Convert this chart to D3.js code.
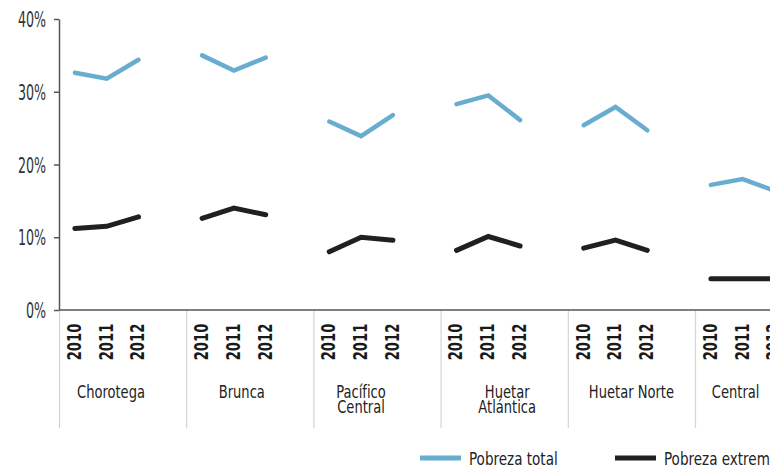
<!DOCTYPE html>
<html lang="es">
<head>
<meta charset="utf-8">
<script src="https://cdn.jsdelivr.net/npm/d3@7"></script>
<style>
  html, body { margin: 0; padding: 0; background: #fff; overflow: hidden; }
  svg { display: block; }
  text { font-family: "DejaVu Sans Condensed", "DejaVu Sans", sans-serif; }
</style>
</head>
<body>
<svg id="chart" width="770" height="466"></svg>
<script>
// Pobreza por región de planificación, 2010-2012 (% de hogares)
const regions = ["Chorotega", "Brunca", "Pacífico Central", "Huetar Atlántica", "Huetar Norte", "Central"];
const years = ["2010", "2011", "2012"];
const pobrezaTotal = [
  [32.6, 31.8, 34.4],
  [35.0, 32.9, 34.7],
  [25.9, 23.9, 26.8],
  [28.3, 29.5, 26.1],
  [25.4, 27.9, 24.7],
  [17.2, 18.0, 16.4]
];
const pobrezaExtrema = [
  [11.2, 11.5, 12.8],
  [12.6, 14.0, 13.1],
  [8.0, 10.0, 9.6],
  [8.2, 10.1, 8.8],
  [8.5, 9.6, 8.2],
  [4.3, 4.3, 4.3]
];
const yTicks = [0, 10, 20, 30, 40];
const seriesNames = ["Pobreza total", "Pobreza extrema"];

// Layout
const plotLeft = 59, groupWidth = 127.2;
const plotTop = 19, plotBottom = 310;
const colors = { total: "#68adcf", extrema: "#231f20" };
// small horizontal shifts of the region captions
const captionShift = [-11.6, -8, -16, 3, 0, -23];
// horizontal squeeze that gives the condensed look of the labels
const squeeze = { tick: 0.67, year: 0.77, caption: 0.83, legend: 0.86 };

const svg = d3.select("#chart");

const x = d3.scaleBand()
  .domain(regions)
  .range([plotLeft, plotLeft + groupWidth * regions.length])
  .paddingInner(0).paddingOuter(0);

// four slots per region: three years plus an empty gap
const xSub = d3.scaleBand()
  .domain([...years, "gap"])
  .range([0, x.bandwidth()]);

const y = d3.scaleLinear().domain([0, 40]).range([plotBottom, plotTop]);

const px = (region, year) => x(region) + xSub(year) + xSub.bandwidth() / 2;

// Y axis
const yAxis = d3.axisLeft(y)
  .tickValues(yTicks)
  .tickFormat(d => d + "%")
  .tickSizeInner(5)
  .tickSizeOuter(0)
  .tickPadding(8);

const gy = svg.append("g")
  .attr("transform", `translate(${plotLeft},0)`)
  .call(yAxis);
gy.select(".domain").attr("stroke", "#555").attr("stroke-width", 1.5);
gy.selectAll(".tick line").attr("stroke", "#555").attr("stroke-width", 1.5);
gy.selectAll(".tick text")
  .attr("fill", "#333")
  .attr("font-size", 21)
  .attr("dy", "0.36em")
  .attr("x", -13 / squeeze.tick)
  .attr("transform", `scale(${squeeze.tick},1)`)
  .style("font-family", "\"DejaVu Sans Condensed\", \"DejaVu Sans\", sans-serif");

// Category separators below the baseline
svg.append("g")
  .selectAll("line")
  .data(regions)
  .join("line")
  .attr("x1", d => x(d) + 0.5)
  .attr("x2", d => x(d) + 0.5)
  .attr("y1", plotBottom)
  .attr("y2", 428)
  .attr("stroke", "#d4d4d4")
  .attr("stroke-width", 1.2);

// Baseline
svg.append("line")
  .attr("x1", plotLeft)
  .attr("x2", plotLeft + groupWidth * regions.length)
  .attr("y1", y(0))
  .attr("y2", y(0))
  .attr("stroke", "#555")
  .attr("stroke-width", 1.5);

// Year labels (rotated)
const yearLabels = svg.append("g");
regions.forEach(r => {
  years.forEach(yr => {
    yearLabels.append("text")
      .attr("transform", `translate(${px(r, yr) - 1},${342}) rotate(-90) scale(${squeeze.year},1)`)
      .attr("text-anchor", "middle")
      .attr("dy", "0.36em")
      .attr("font-size", 19)
      .attr("font-weight", "bold")
      .attr("fill", "#1a1a1a")
      .text(yr);
  });
});

// Region captions (wrapped on two lines when needed)
const wrapAt = { "Pacífico Central": ["Pacífico", "Central"], "Huetar Atlántica": ["Huetar", "Atlántica"] };
regions.forEach((r, i) => {
  const lines = wrapAt[r] || [r];
  const cx = x(r) + x.bandwidth() / 2 + captionShift[i];
  const t = svg.append("text")
    .attr("transform", `translate(${cx},0) scale(${squeeze.caption},1)`)
    .attr("text-anchor", "middle")
    .attr("font-size", 17.5)
    .attr("fill", "#222");
  lines.forEach((ln, k) => {
    t.append("tspan").attr("x", 0).attr("y", 398 + k * 15).text(ln);
  });
});

// Lines, one segment per region
const line = d3.line()
  .x(d => d.x)
  .y(d => y(d.v));

function drawSeries(values, color, width) {
  svg.append("g")
    .selectAll("path")
    .data(regions.map((r, i) => years.map((yr, j) => ({ x: px(r, yr), v: values[i][j] }))))
    .join("path")
    .attr("d", line)
    .attr("fill", "none")
    .attr("stroke", color)
    .attr("stroke-width", width)
    .attr("stroke-linecap", "round")
    .attr("stroke-linejoin", "miter");
}
drawSeries(pobrezaTotal, colors.total, 4.5);
drawSeries(pobrezaExtrema, colors.extrema, 5);

// Legend
const legend = svg.append("g");
const legendItems = [
  { name: seriesNames[0], color: colors.total, x: 420 },
  { name: seriesNames[1], color: colors.extrema, x: 615 }
];
legendItems.forEach(it => {
  legend.append("line")
    .attr("x1", it.x).attr("x2", it.x + 41)
    .attr("y1", 458).attr("y2", 458)
    .attr("stroke", it.color)
    .attr("stroke-width", 5);
  legend.append("text")
    .attr("transform", `translate(${it.x + 49},465) scale(${squeeze.legend},1)`)
    .attr("font-size", 17.5)
    .attr("fill", "#222")
    .text(it.name);
});
</script>
</body>
</html>
